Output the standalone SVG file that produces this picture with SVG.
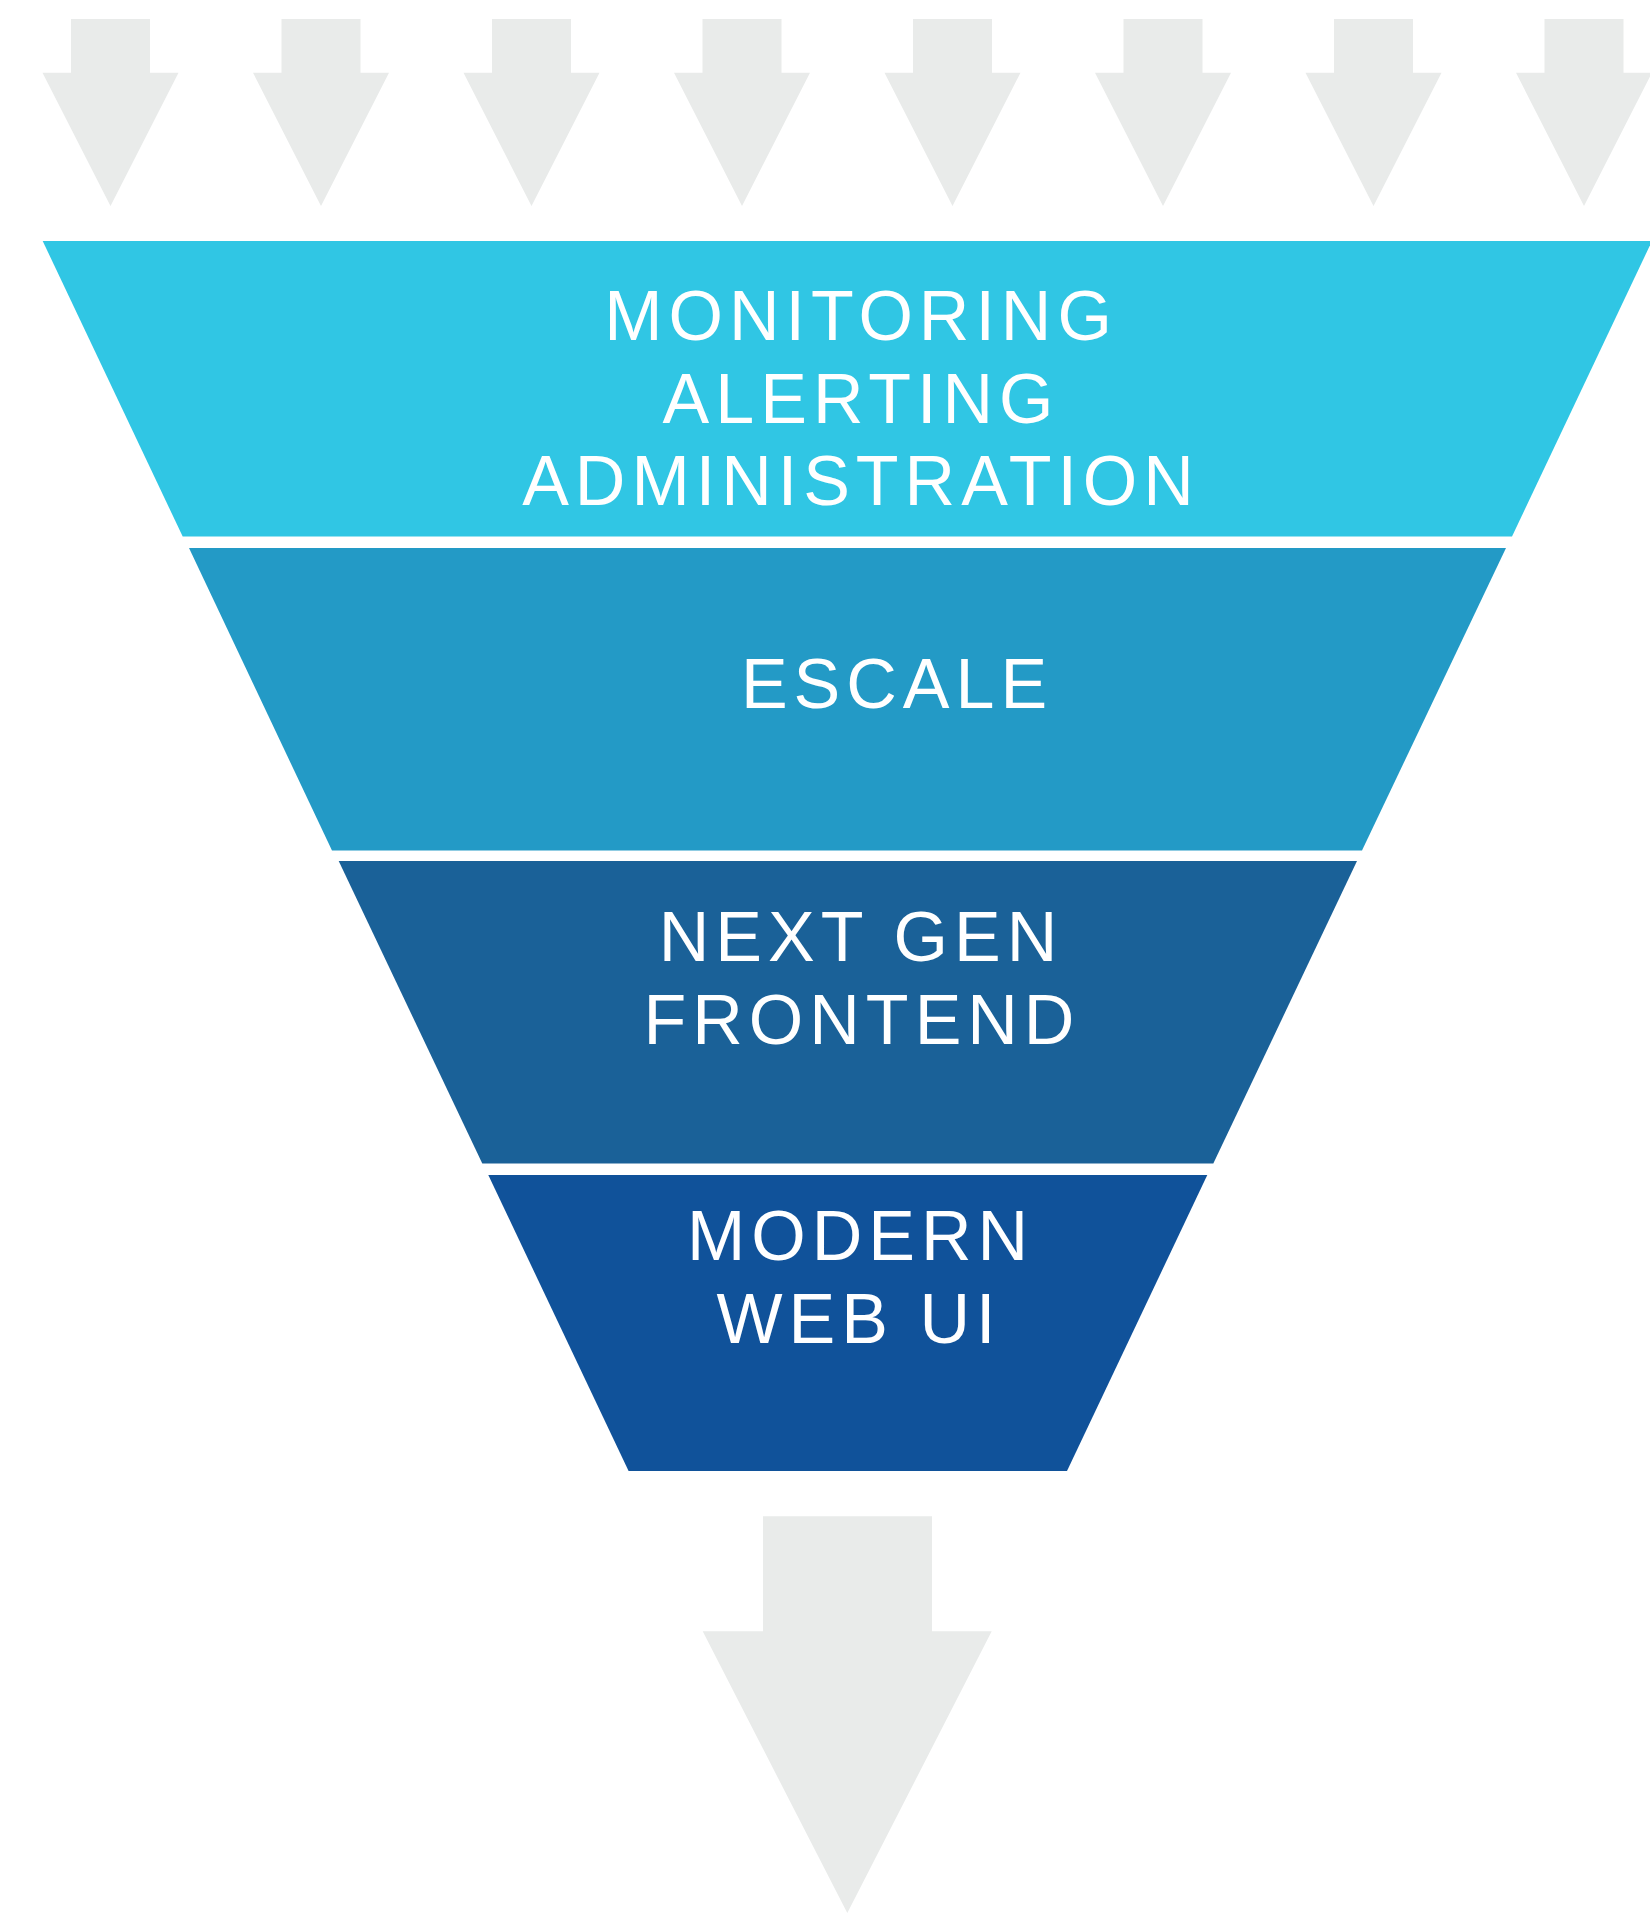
<svg xmlns="http://www.w3.org/2000/svg" width="1650" height="1913" viewBox="0 0 1650 1913">
<defs>
<style>
.arrow{fill:#E9EBEA}
.lbl{font-family:"Liberation Sans",Arial,Helvetica,sans-serif;font-size:70px;fill:#FFFFFF;letter-spacing:6px;text-anchor:middle}
</style>
<path id="arr" d="M-39.5,19 H39.5 V72.7 H68 L0,206 L-68,72.7 H-39.5 Z"/>
</defs>
<rect width="1650" height="1913" fill="#FFFFFF"/>
<g id="inputs" class="arrow">
<use href="#arr" x="110.5"/>
<use href="#arr" x="321"/>
<use href="#arr" x="531.5"/>
<use href="#arr" x="742"/>
<use href="#arr" x="952.5"/>
<use href="#arr" x="1163"/>
<use href="#arr" x="1373.5"/>
<use href="#arr" x="1584"/>
</g>
<g id="layer1">
<polygon points="42.7,241 1652,241 1512,536.5 182.7,536.5" fill="#30C6E4"/>
<text class="lbl" x="861" y="339.5">MONITORING</text>
<text class="lbl" x="861" y="422.5">ALERTING</text>
<text class="lbl" x="861" y="505">ADMINISTRATION</text>
</g>
<g id="layer2">
<polygon points="189,548 1506,548 1362,850.5 332,850.5" fill="#239AC6"/>
<text class="lbl" x="897" y="707.5">ESCALE</text>
</g>
<g id="layer3">
<polygon points="338.7,861 1357,861 1213.3,1163.5 482.3,1163.5" fill="#1A6198"/>
<text class="lbl" x="861" y="961">NEXT GEN</text>
<text class="lbl" x="862" y="1043.5">FRONTEND</text>
</g>
<g id="layer4">
<polygon points="488.3,1175 1207.3,1175 1067,1471 628.6,1471" fill="#10529A"/>
<text class="lbl" x="860.5" y="1260">MODERN</text>
<text class="lbl" x="859" y="1342.7">WEB UI</text>
</g>
<g id="connectors">
<polygon class="arrow" points="763,1516.3 932,1516.3 932,1631.3 991.7,1631.3 847.3,1913 702.7,1631.3 763,1631.3"/>
</g>
</svg>
